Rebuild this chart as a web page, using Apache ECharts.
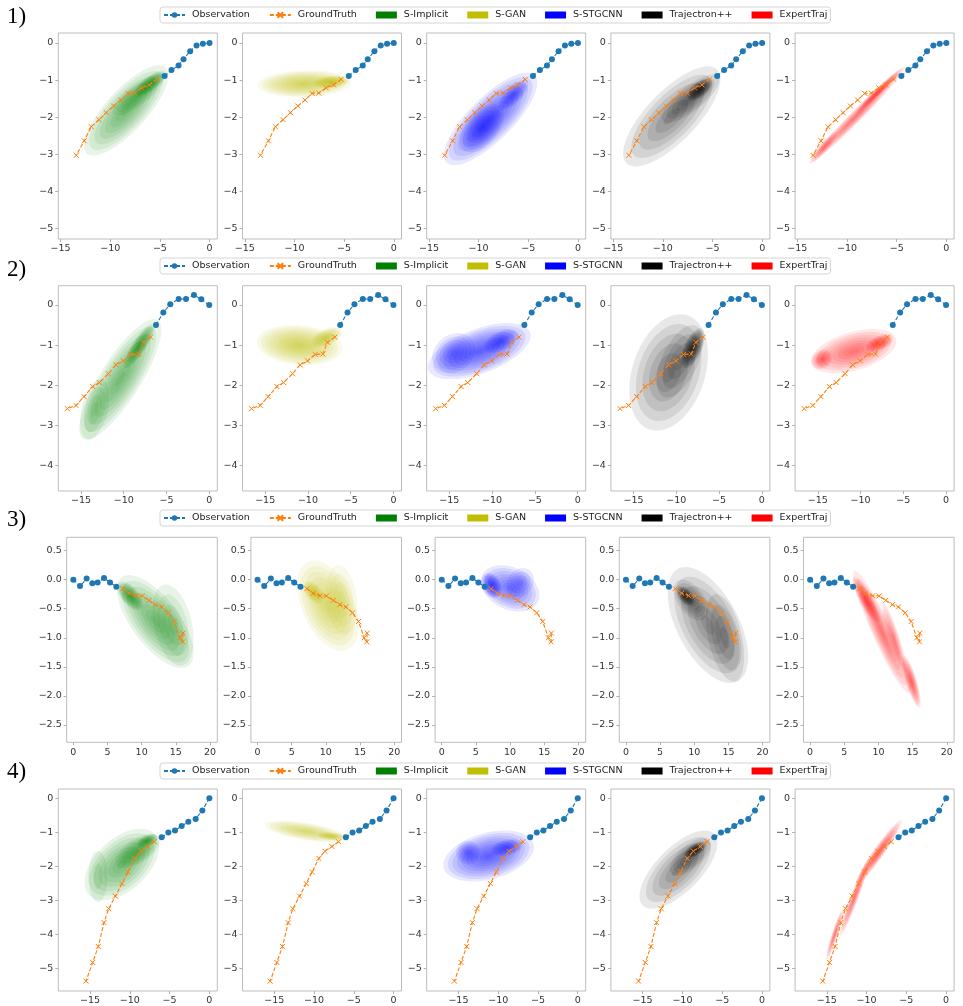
<!DOCTYPE html>
<html><head><meta charset="utf-8">
<script src="https://cdn.jsdelivr.net/npm/echarts@6/dist/echarts.min.js"></script>
<style>html,body{margin:0;padding:0;background:#fff}#c{width:963px;height:1006px}</style>
</head><body><div id="c"></div>
<script>
// ---------------- data ----------------
const models = ['S-Implicit', 'S-GAN', 'S-STGCNN', 'Trajectron++', 'ExpertTraj'];
const rowLabels = ['1)', '2)', '3)', '4)'];

// Row 1
const obs1 = [[0,0],[-0.67,-0.02],[-1.31,-0.07],[-1.95,-0.22],[-2.62,-0.44],[-3.12,-0.61],[-3.83,-0.73],[-4.53,-0.89]];
const gt1 = [[-5.30,-0.98],[-6.07,-1.13],[-6.81,-1.21],[-7.55,-1.35],[-8.22,-1.36],[-8.93,-1.54],[-9.66,-1.70],[-10.40,-1.88],[-11.14,-2.07],[-11.91,-2.26],[-12.62,-2.64],[-13.42,-3.03]];
// density blobs: [cx, cy, sx, sy, rho, levels]
const d1_si = [[-8.4,-1.82,4.25,1.22,0.78,4],[-7.2,-1.4,2.6,0.55,0.8,3],[-6.0,-1.1,1.6,0.35,0.75,6]];
const d1_sg = [[-9.0,-1.1,4.7,0.36,0.1,5],[-6.3,-1.05,1.8,0.17,0.2,6]];
const d1_st = [[-8.8,-2.05,4.7,1.25,0.78,5],[-9.7,-2.3,2.2,0.65,0.5,4],[-6.5,-1.4,1.5,0.4,0.7,4]];
const d1_tr = [[-9.1,-1.98,4.9,1.35,0.74,3],[-7.2,-1.5,2.9,0.65,0.78,3],[-6.3,-1.25,1.3,0.3,0.6,7]];
const d1_et = [[-9.0,-1.95,4.8,1.3,0.985,4],[-6.8,-1.3,2.3,0.6,0.98,5],[-12.3,-2.8,1.3,0.4,0.9,3]];
const xt1 = [-15,-10,-5,0];
const yt1 = [0,-1,-2,-3,-4,-5];

// Row 2
const obs2 = [[0,0],[-0.93,0.14],[-1.79,0.25],[-2.72,0.15],[-3.58,0.15],[-4.56,0.02],[-5.37,-0.19],[-6.23,-0.50]];
const gt2 = [[-6.86,-0.80],[-7.71,-0.93],[-8.26,-1.22],[-9.15,-1.23],[-10.05,-1.39],[-10.91,-1.49],[-11.80,-1.71],[-12.85,-1.93],[-13.63,-2.03],[-14.64,-2.28],[-15.58,-2.50],[-16.59,-2.58]];
const d2_si = [[-10.4,-1.85,4.8,1.5,0.82,4],[-8.2,-1.02,1.8,0.55,0.85,6],[-13.4,-2.6,1.7,0.75,0.4,2]];
const d2_sg = [[-11.0,-1.0,5.0,0.5,-0.15,5],[-7.8,-0.8,1.8,0.25,0.5,5]];
const d2_st = [[-11.5,-1.15,6.0,0.7,0.55,5],[-9.0,-0.9,2.0,0.3,0.5,4],[-14.5,-1.2,2.5,0.5,0.2,3]];
const d2_tr = [[-10.9,-1.68,4.6,1.45,0.3,3],[-9.6,-1.4,2.7,0.9,0.55,2],[-8.1,-1.08,1.4,0.5,0.6,7]];
const d2_et = [[-10.8,-1.15,5.0,0.55,0.45,4],[-7.8,-0.95,1.6,0.22,0.5,5],[-14.5,-1.35,1.2,0.25,0.2,4]];
const xt2 = [-15,-10,-5,0];
const yt2 = [0,-1,-2,-3,-4];

// Row 3
const obs3 = [[0,0],[0.98,-0.11],[1.95,0.02],[2.78,-0.06],[3.56,-0.05],[4.49,0.03],[5.37,-0.05],[6.29,-0.12]];
const gt3 = [[7.22,-0.155],[8.15,-0.235],[9.17,-0.275],[10.10,-0.28],[11.07,-0.356],[12.05,-0.43],[12.93,-0.47],[13.91,-0.57],[14.78,-0.72],[15.61,-1.0],[16.0,-1.07],[16.05,-0.92]];
const d3_si = [[12.0,-0.72,5.6,0.8,-0.68,4],[14.6,-0.78,3.0,0.7,-0.35,2],[8.3,-0.28,1.9,0.25,-0.6,6]];
const d3_sg = [[10.3,-0.45,4.5,0.78,-0.45,4],[12.3,-0.35,2.3,0.6,-0.2,2],[8.2,-0.22,1.5,0.2,-0.5,5]];
const d3_st = [[10.0,-0.15,4.3,0.4,-0.3,4],[7.3,-0.1,1.5,0.22,-0.3,6],[11.5,-0.05,2.0,0.25,0.2,2]];
const d3_tr = [[12.0,-0.78,5.9,1.0,-0.55,3],[14.5,-1.0,2.8,0.75,-0.45,2],[9.5,-0.35,2.5,0.35,-0.5,3],[8.7,-0.28,1.3,0.17,-0.5,6]];
const d3_et = [[10.5,-0.9,4.2,1.05,-0.93,4],[14.8,-1.75,1.4,0.45,-0.8,5],[8.2,-0.35,2.0,0.4,-0.85,5],[12.3,-1.0,1.8,0.6,-0.9,3]];
const xt3 = [0,5,10,15,20];
const yt3 = [0.5,0,-0.5,-1,-1.5,-2,-2.5];

// Row 4
const obs4 = [[0,0],[-0.88,-0.36],[-1.72,-0.61],[-2.64,-0.69],[-3.48,-0.82],[-4.32,-0.95],[-5.15,-1.01],[-5.99,-1.15]];
const gt4 = [[-6.91,-1.28],[-7.75,-1.42],[-8.63,-1.56],[-9.39,-1.77],[-10.23,-2.17],[-10.98,-2.51],[-11.82,-2.88],[-12.66,-3.25],[-13.25,-3.66],[-13.96,-4.36],[-14.67,-4.83],[-15.51,-5.38]];
const d4_si = [[-11.0,-1.95,4.7,1.05,0.5,4],[-9.0,-1.55,2.8,0.5,0.6,4],[-7.8,-1.25,1.3,0.2,0.5,5],[-14.0,-2.3,1.2,0.75,0.0,1]];
const d4_sg = [[-11.0,-0.98,5.2,0.32,-0.6,4],[-7.8,-1.12,1.8,0.12,-0.3,5]];
const d4_st = [[-11.2,-1.7,5.7,0.75,0.35,5],[-8.9,-1.45,2.0,0.25,0.3,4],[-13.8,-1.6,1.5,0.35,0.0,3]];
const d4_tr = [[-10.5,-2.1,4.9,1.15,0.68,3],[-9.0,-1.72,2.6,0.55,0.65,3],[-8.4,-1.52,1.4,0.24,0.6,7]];
const d4_et = [[-8.5,-1.6,2.9,0.95,0.96,5],[-11.5,-2.9,1.9,1.15,0.96,4],[-14.0,-4.0,1.1,0.75,0.94,4]];
const xt4 = [-15,-10,-5,0];
const yt4 = [0,-1,-2,-3,-4,-5];

// ---------------- layout / style ----------------
const modelRGB = [[0,128,0],[191,191,0],[0,0,255],[0,0,0],[255,0,0]];
const rows = [
  {obs: obs1, gt: gt1, dens: [d1_si,d1_sg,d1_st,d1_tr,d1_et], xt: xt1, yt: yt1, dec: 0,
   xr: [-15.23, 0.78], yr: [-5.29, 0.27], top: 33, h: 206, left0: 58.3, w: 159, legTop: 7, labTop: 5},
  {obs: obs2, gt: gt2, dens: [d2_si,d2_sg,d2_st,d2_tr,d2_et], xt: xt2, yt: yt2, dec: 0,
   xr: [-17.65, 0.94], yr: [-4.63, 0.48], top: 285.7, h: 205.3, left0: 58.3, w: 159, legTop: 258, labTop: 258},
  {obs: obs3, gt: gt3, dens: [d3_si,d3_sg,d3_st,d3_tr,d3_et], xt: xt3, yt: yt3, dec: 1,
   xr: [-0.97, 21.07], yr: [-2.80, 0.73], top: 537.3, h: 205, left0: 66.7, w: 150.6, legTop: 510, labTop: 508},
  {obs: obs4, gt: gt4, dens: [d4_si,d4_sg,d4_st,d4_tr,d4_et], xt: xt4, yt: yt4, dec: 0,
   xr: [-18.99, 1.0], yr: [-5.67, 0.27], top: 789, h: 205.3, left0: 58.3, w: 159, legTop: 763, labTop: 760}
];
const panelStep = 184.2;
const LAYER_ALPHA = 0.09;
const SUB = 2; // rings drawn per density level (smoother shading)

function fmt(dec) {
  return function (v) {
    let s = dec ? Number(v).toFixed(dec) : String(Math.round(v));
    if (Math.abs(v) < 1e-9) s = dec ? (0).toFixed(dec) : '0';
    return s.replace('-', '\u2212');
  };
}

function blobRenderer(rgb) {
  const fill = 'rgba(' + rgb.join(',') + ',' + LAYER_ALPHA + ')';
  return function (params, api) {
    const cx = api.value(0), cy = api.value(1), sx = api.value(2), sy = api.value(3), rho = api.value(4);
    const n = api.value(5) * SUB;
    const q = Math.sqrt(Math.max(0, 1 - rho * rho));
    const children = [];
    for (let j = 0; j < n; j++) {
      const k = (n - j) / n;
      const pts = [];
      for (let t = 0; t < 60; t++) {
        const a = t / 60 * 2 * Math.PI;
        pts.push(api.coord([cx + k * sx * Math.cos(a), cy + k * sy * (rho * Math.cos(a) + q * Math.sin(a))]));
      }
      children.push({type: 'polygon', shape: {points: pts, smooth: 0}, style: {fill: fill}});
    }
    return {type: 'group', children: children};
  };
}

const grids = [], xAxes = [], yAxes = [], series = [], legends = [], graphics = [];
const tickColor = '#b0b0b0';
const labelStyle = {fontFamily: 'DejaVu Sans', fontSize: 9.5, color: '#333'};

rows.forEach(function (r, ri) {
  for (let p = 0; p < 5; p++) {
    const gi = grids.length;
    grids.push({left: r.left0 + p * panelStep, top: r.top, width: r.w, height: r.h,
      show: true, borderColor: '#bdbdbd', borderWidth: 1, backgroundColor: 'transparent', containLabel: false});
    xAxes.push({type: 'value', gridIndex: gi, min: r.xr[0], max: r.xr[1], position: 'bottom',
      axisLine: {show: false, onZero: false}, splitLine: {show: false},
      axisTick: {show: true, length: 3, inside: false, lineStyle: {color: tickColor}, customValues: r.xt},
      axisLabel: Object.assign({margin: 5, formatter: fmt(0), customValues: r.xt}, labelStyle)});
    yAxes.push({type: 'value', gridIndex: gi, min: r.yr[0], max: r.yr[1], position: 'left',
      axisLine: {show: false, onZero: false}, splitLine: {show: false},
      axisTick: {show: true, length: 3, inside: false, lineStyle: {color: tickColor}, customValues: r.yt},
      axisLabel: Object.assign({margin: 5, formatter: fmt(r.dec), customValues: r.yt}, labelStyle)});
    series.push({type: 'custom', name: models[p], xAxisIndex: gi, yAxisIndex: gi, silent: true, z: 1,
      renderItem: blobRenderer(modelRGB[p]), data: r.dens[p], itemStyle: {color: 'rgb(' + modelRGB[p].join(',') + ')'},
      animation: false});
    series.push({type: 'line', name: 'Observation', xAxisIndex: gi, yAxisIndex: gi, data: r.obs, z: 3,
      symbol: 'circle', symbolSize: 6, showAllSymbol: true, silent: true, animation: false,
      itemStyle: {color: '#1f77b4'}, lineStyle: {color: '#1f77b4', width: 1.1, type: [4, 2]}});
    series.push({type: 'line', name: 'GroundTruth', xAxisIndex: gi, yAxisIndex: gi, data: r.gt, z: 4,
      symbol: 'path://M0,0L10,10M10,0L0,10', symbolSize: 5, showAllSymbol: true, silent: true, animation: false,
      itemStyle: {color: '#ff7f0e', borderColor: '#ff7f0e', borderWidth: 1},
      lineStyle: {color: '#ff7f0e', width: 1.1, type: [4, 2]}});
  }
  legends.push({left: 160, top: r.legTop, orient: 'horizontal', itemWidth: 21, itemHeight: 7, itemGap: 19,
    padding: [3, 3], borderColor: '#d5d5d5', borderWidth: 1, borderRadius: 3, backgroundColor: '#fff',
    selectedMode: false,
    textStyle: {fontFamily: 'DejaVu Sans', fontSize: 9.5, color: '#222', padding: [0, 0, 0, 2]},
    data: [{name: 'Observation'}, {name: 'GroundTruth'}].concat(models.map(function (m, i) {
      return {name: m, icon: 'rect', itemStyle: {color: 'rgb(' + modelRGB[i].join(',') + ')'}};
    }))});
  graphics.push({type: 'text', left: 7, top: r.labTop,
    style: {text: rowLabels[ri], font: '23px "Liberation Serif", "DejaVu Serif", serif', fill: '#000'}});
});

const chart = echarts.init(document.getElementById('c'), null, {renderer: 'canvas'});
chart.setOption({
  animation: false,
  backgroundColor: '#fff',
  grid: grids, xAxis: xAxes, yAxis: yAxes, series: series, legend: legends, graphic: graphics
});
</script></body></html>
